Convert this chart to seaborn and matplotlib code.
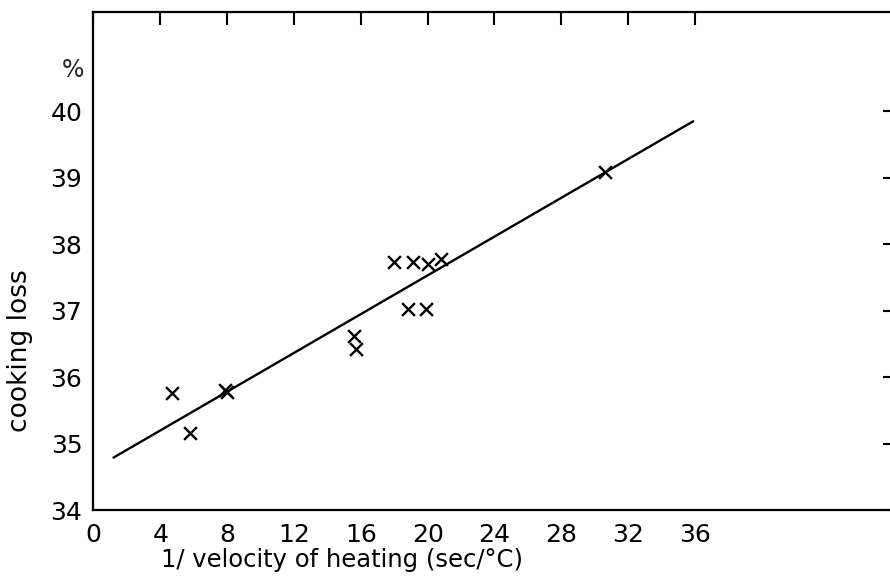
import matplotlib
matplotlib.use("Agg")
import matplotlib.pyplot as plt
import seaborn as sns
import pandas as pd

# data
inv_velocity = [4.7, 5.8, 7.9, 8.0, 15.6, 15.7, 18.0, 19.1, 20.0, 20.8, 18.8, 19.9, 30.6]
cooking_loss = [35.76, 35.16, 35.80, 35.78, 36.62, 36.42, 37.74, 37.74, 37.70, 37.78, 37.03, 37.03, 39.08]
fit_x = [1.2, 35.9]
fit_y = [34.79, 39.85]
x_ticks = [0, 4, 8, 12, 16, 20, 24, 28, 32, 36]
y_ticks = [34, 35, 36, 37, 38, 39, 40]

sns.set_theme(style="white")
plt.rcParams["font.family"] = ["DejaVu Sans"]

fig = plt.figure(figsize=(8.9, 5.81), dpi=100)
ax = fig.add_axes([0.105, 0.122, 0.901, 0.858])

df = pd.DataFrame({"x": inv_velocity, "y": cooking_loss})
sns.scatterplot(data=df, x="x", y="y", marker="x", s=85, color="black",
                linewidth=1.7, ax=ax, zorder=3)
sns.lineplot(x=fit_x, y=fit_y, color="black", linewidth=1.7, ax=ax)

ax.set_xlim(0, 48)
ax.set_ylim(34, 41.5)
ax.set_xticks(x_ticks)
ax.set_yticks(y_ticks)
ax.set_xticklabels([str(t) for t in x_ticks], fontsize=18)
ax.set_yticklabels([str(t) for t in y_ticks], fontsize=18)
ax.tick_params(direction="in", top=True, right=True, length=9, width=1.5,
               color="black", labelcolor="black")
ax.tick_params(axis="x", pad=9)
ax.tick_params(axis="y", pad=8)
for s in ax.spines.values():
    s.set_linewidth(1.6)
    s.set_color("black")

ax.set_xlabel("1/ velocity of heating (sec/°C)", fontsize=17.5, color="black")
ax.set_ylabel("cooking loss", fontsize=19, color="black")
ax.xaxis.set_label_coords(0.31, -0.075)
ax.yaxis.set_label_coords(-0.075, 0.32)

ax.text(-1.25, 40.62, "%", fontsize=17, ha="center", va="center", clip_on=False)

fig.savefig("out.png", dpi=100)
